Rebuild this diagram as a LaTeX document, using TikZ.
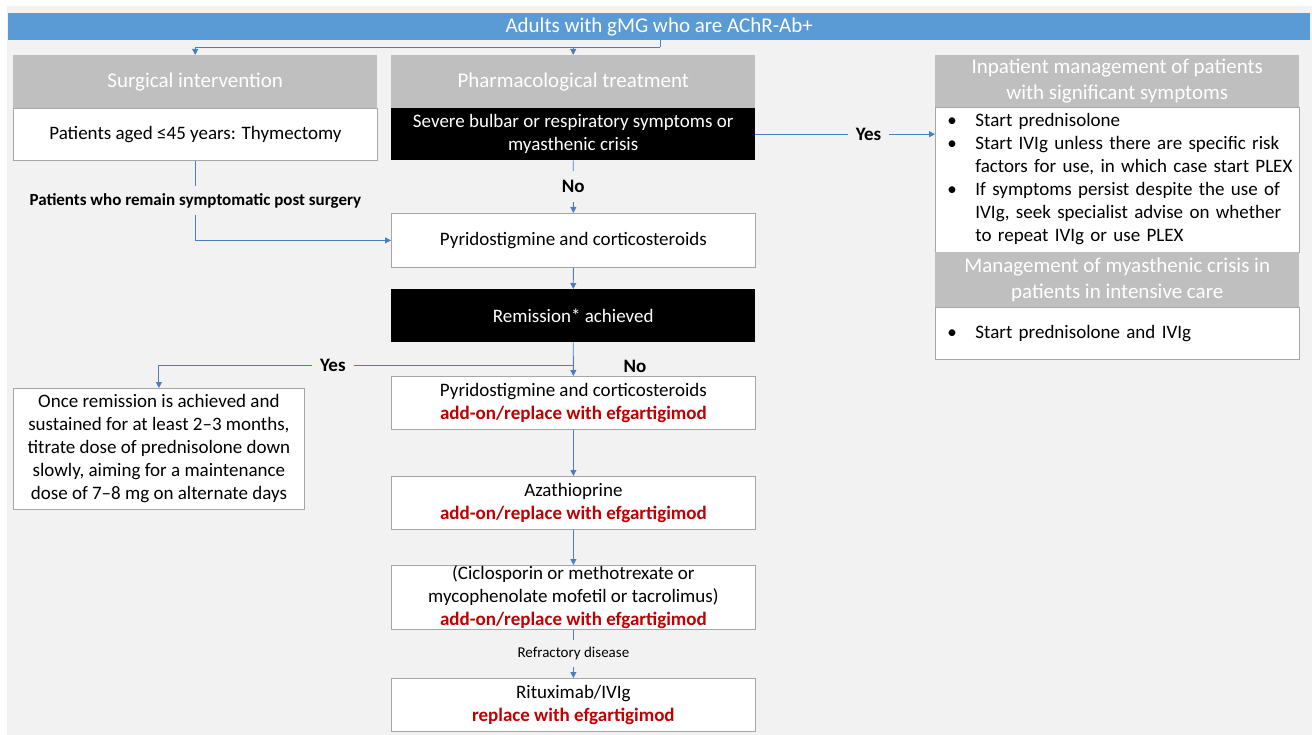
\documentclass[tikz,border=0pt]{standalone}
\usepackage{fontspec}
\setmainfont{Carlito}
\usetikzlibrary{arrows.meta}

\definecolor{bgfill}{HTML}{F2F2F2}
\definecolor{barblue}{HTML}{5B9BD5}
\definecolor{hdgrey}{HTML}{BFBFBF}
\definecolor{edgegrey}{HTML}{A6A6A6}
\definecolor{linkblue}{HTML}{4A7EC0}
\definecolor{addred}{HTML}{C00000}

\newcommand{\bodyfont}{\fontsize{19}{23}\selectfont}
\newcommand{\headfont}{\fontsize{21}{26}\selectfont}
\newcommand{\addon}{\textcolor{addred}{\textbf{add-on/replace with efgartigimod}}}

\tikzset{
  hdbox/.style={fill=hdgrey, text=white, font=\headfont, align=center,
    inner sep=0pt, anchor=north west},
  whbox/.style={fill=white, draw=edgegrey, line width=0.8pt, font=\bodyfont,
    align=center, inner sep=0pt, anchor=north west},
  blbox/.style={fill=black, text=white, font=\bodyfont, align=center,
    inner sep=0pt, anchor=north west},
  listbox/.style={whbox, minimum width=364pt, text width=340pt,
    inner xsep=12pt, align=left},
  midcol/.style={minimum width=364pt, minimum height=53pt},
  link/.style={draw=linkblue, line width=0.9pt, -{Triangle[length=6pt,width=6pt]}},
  plain/.style={draw=linkblue, line width=0.9pt},
  lbl/.style={fill=bgfill, font={\bfseries\bodyfont}, inner sep=2pt},
}

\begin{document}
\begin{tikzpicture}[x=1pt,y=-1pt]

  \useasboundingbox (0,0) rectangle (1312,735);
  \fill[white] (0,0) rectangle (1312,735);
  \fill[bgfill] (7,6) rectangle (1312,735);

  \node[fill=barblue, text=white, font=\headfont, inner sep=0pt,
        minimum width=1302pt, minimum height=27pt, anchor=north west]
        (adults) at (8,13) {Adults with gMG who are AChR-Ab+};

  % left column
  \node[hdbox, minimum width=364pt, minimum height=53pt] (surghead) at (13,55)
        {Surgical intervention};
  \node[whbox, minimum width=364pt, minimum height=52pt] (surgbody) at (13,108)
        {Patients aged ≤45 years: Thymectomy};
  \node[whbox, minimum width=291pt, minimum height=121pt] (once) at (13,388)
        {Once remission is achieved and\\ sustained for at least 2--3 months,\\
         titrate dose of prednisolone down\\ slowly, aiming for a maintenance\\
         dose of 7--8 mg on alternate days};

  % middle column
  \node[hdbox, midcol] (pharmhead) at (391,55) {Pharmacological treatment};
  \node[blbox, midcol, minimum height=52pt] (crisis) at (391,108)
        {Severe bulbar or respiratory symptoms or\\ myasthenic crisis};
  \node[whbox, midcol, minimum height=54pt] (pyrido) at (391,213)
        {Pyridostigmine and corticosteroids};
  \node[blbox, midcol] (remission) at (391,289) {Remission* achieved};
  \node[whbox, midcol] (pyridoadd) at (391,376)
        {Pyridostigmine and corticosteroids\\ \addon};
  \node[whbox, midcol] (aza) at (391,476) {Azathioprine\\ \addon};
  \node[whbox, midcol, minimum height=64pt] (ciclo) at (391,565)
        {(Ciclosporin or methotrexate or\\ mycophenolate mofetil or tacrolimus)\\ \addon};
  \node[whbox, midcol] (ritux) at (391,678)
        {Rituximab/IVIg\\ \textcolor{addred}{\textbf{replace with efgartigimod}}};

  % right column
  \node[hdbox, minimum width=364pt, minimum height=52pt] (inphead) at (935,55)
        {Inpatient management of patients\\ with significant symptoms};
  \node[listbox, minimum height=145pt] (inpbody) at (935,107)
        {\begin{tabular}{@{}p{28pt}@{}l@{}}
         \textbullet & Start prednisolone\\
         \textbullet & Start IVIg unless there are specific risk\\
                     & factors for use, in which case start PLEX\\
         \textbullet & If symptoms persist despite the use of\\
                     & IVIg, seek specialist advise on whether\\
                     & to repeat IVIg or use PLEX
         \end{tabular}};
  \node[hdbox, minimum width=364pt, minimum height=55pt] (icuhead) at (935,252)
        {Management of myasthenic crisis in\\ patients in intensive care};
  \node[listbox, minimum height=52pt] (icubody) at (935,307)
        {\begin{tabular}{@{}p{28pt}@{}l@{}}
         \textbullet & Start prednisolone and IVIg
         \end{tabular}};

  % connectors
  \coordinate (fork) at (660,47);
  \coordinate (yesfork) at (573,365);

  \draw[plain] (fork |- adults.south) -- (fork);
  \draw[link] (fork) -| (surghead.north);
  \draw[link] (fork -| pharmhead.north) -- (pharmhead.north);

  \draw[link] (surgbody.south) |- node[pos=0.25, lbl, font={\bfseries\fontsize{17}{20}\selectfont},
        inner ysep=7pt] (postsurg) {Patients who remain symptomatic post surgery} (pyrido.west);
  \draw[link] (crisis) -- node[lbl, inner ysep=9pt] (nofirst) {No} (pyrido);
  \draw[link] (crisis.east) -- node[pos=0.63, lbl, inner xsep=8pt] (yesfirst) {Yes}
        (crisis.east -| inpbody.west);
  \draw[link] (pyrido) -- (remission);
  \draw[link] (remission) -- (pyridoadd);
  \draw[link] (yesfork) -| node[pos=0.29, lbl, inner xsep=8pt] (yessecond) {Yes} (once.north);
  \node[font={\bfseries\bodyfont}] (nosecond) at (635,366) {No};
  \draw[link] (pyridoadd) -- (aza);
  \draw[link] (aza) -- (ciclo);
  \draw[link] (ciclo) -- node[lbl, font=\fontsize{15}{18}\selectfont, inner ysep=7pt]
        (refract) {Refractory disease} (ritux);

\end{tikzpicture}
\end{document}
